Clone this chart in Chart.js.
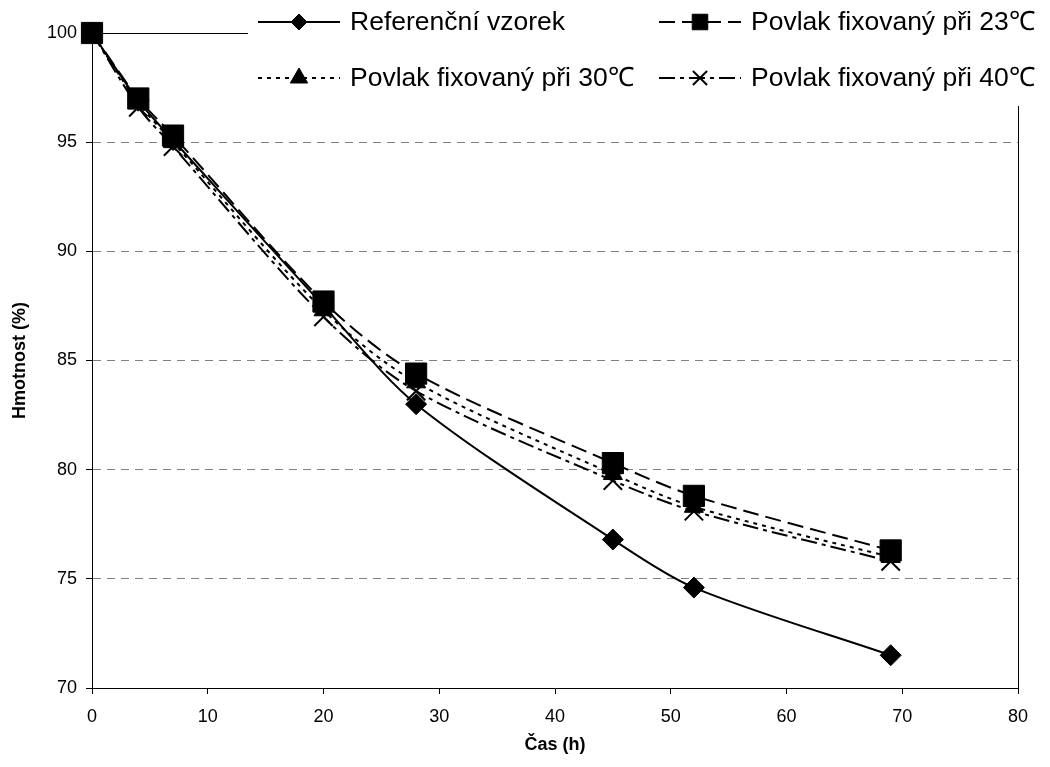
<!DOCTYPE html>
<html>
<head>
<meta charset="utf-8">
<script src="https://cdn.jsdelivr.net/npm/chart.js@4/dist/chart.umd.min.js"></script>
<style>
  html, body { margin: 0; padding: 0; background: #fff; }
  #wrap { width: 1050px; height: 767px; }
</style>
</head>
<body>
<div id="wrap"><canvas id="chart" width="1050" height="767"></canvas></div>
<script>
// data
const hours = [0, 4, 7, 20, 28, 45, 52, 69];
const reference = [100, 96.9, 95.1, 87.5, 83.0, 76.8, 74.6, 71.5];
const coat23 = [100, 97.0, 95.3, 87.7, 84.4, 80.3, 78.8, 76.3];
const coat30 = [100, 96.8, 95.0, 87.3, 84.0, 79.8, 78.3, 76.0];
const coat40 = [100, 96.6, 94.8, 87.0, 83.6, 79.5, 78.1, 75.8];
const seriesNames = [
    'Referenční vzorek',
    'Povlak fixovaný při 23℃',
    'Povlak fixovaný při 30℃',
    'Povlak fixovaný při 40℃'
];
const xTitle = 'Čas (h)';
const yTitle = 'Hmotnost (%)';

const FONT = "'Liberation Sans', Arial, sans-serif";

function toPoints(values) {
    return hours.map((h, i) => ({ x: h, y: values[i] }));
}

function makeSet(label, values, style, radius, legendRadius, dash) {
    return {
        label: label,
        data: toPoints(values),
        borderColor: '#000',
        backgroundColor: '#000',
        borderWidth: 2,
        borderDash: dash,
        pointStyle: style,
        pointRadius: radius,
        legendRadius: legendRadius,
        pointBackgroundColor: '#000',
        pointBorderColor: '#000',
        pointBorderWidth: style === 'crossRot' ? 2 : 1,
        tension: 0.3,
        clip: false,
        fill: false
    };
}

const datasets = [
    makeSet(seriesNames[0], reference, 'rectRot', 10.5, 8, []),
    makeSet(seriesNames[1], coat23, 'rect', 15, 11, [16, 7]),
    makeSet(seriesNames[2], coat30, 'triangle', 11, 10, [4, 5]),
    makeSet(seriesNames[3], coat40, 'crossRot', 13, 10, [16, 5, 4, 5])
];

// frame round the plot area
const frame = {
    id: 'frame',
    beforeDatasetsDraw(chart) {
        const a = chart.chartArea;
        const ctx = chart.ctx;
        ctx.save();
        ctx.strokeStyle = '#000';
        ctx.lineWidth = 1;
        ctx.beginPath();
        ctx.moveTo(a.left, a.top + 0.5);
        ctx.lineTo(a.right + 0.5, a.top + 0.5);
        ctx.lineTo(a.right + 0.5, a.bottom);
        ctx.stroke();
        ctx.restore();
    }
};

// legend in two columns, white box over the top of the plot
const boxLegend = {
    id: 'boxLegend',
    afterDraw(chart) {
        const ctx = chart.ctx;
        ctx.save();
        ctx.fillStyle = '#fff';
        ctx.fillRect(248, 0, 802, 106);
        const slots = [
            { x: 258, y: 22 }, { x: 659, y: 22 },
            { x: 258, y: 78 }, { x: 659, y: 78 }
        ];
        chart.data.datasets.forEach((ds, i) => {
            const s = slots[i];
            ctx.save();
            ctx.strokeStyle = '#000';
            ctx.lineWidth = 2;
            ctx.setLineDash(ds.borderDash || []);
            ctx.beginPath();
            ctx.moveTo(s.x, s.y);
            ctx.lineTo(s.x + 82, s.y);
            ctx.stroke();
            ctx.restore();
            ctx.save();
            ctx.fillStyle = '#000';
            ctx.strokeStyle = '#000';
            ctx.lineWidth = ds.pointBorderWidth;
            Chart.helpers.drawPoint(ctx, {
                pointStyle: ds.pointStyle,
                radius: ds.legendRadius,
                borderWidth: ds.pointBorderWidth,
                rotation: 0
            }, s.x + 41, s.y);
            ctx.restore();
            ctx.fillStyle = '#000';
            ctx.font = '26.5px ' + FONT;
            ctx.textBaseline = 'middle';
            ctx.textAlign = 'left';
            ctx.fillText(ds.label, s.x + 92, s.y + 1);
        });
        ctx.restore();
    }
};

const ctx = document.getElementById('chart').getContext('2d');

new Chart(ctx, {
    type: 'line',
    data: { datasets: datasets },
    options: {
        responsive: false,
        animation: false,
        layout: { padding: { left: 0, top: 33, right: 32, bottom: 0 } },
        plugins: {
            legend: { display: false },
            tooltip: { enabled: false }
        },
        scales: {
            x: {
                type: 'linear',
                min: 0,
                max: 80,
                ticks: {
                    stepSize: 10,
                    color: '#000',
                    font: { family: FONT, size: 18 },
                    padding: 12,
                    maxRotation: 0
                },
                grid: {
                    drawOnChartArea: false,
                    drawTicks: true,
                    tickLength: 6,
                    tickColor: '#000'
                },
                border: { color: '#000', width: 1 },
                title: {
                    display: true,
                    text: xTitle,
                    color: '#000',
                    font: { family: FONT, size: 18, weight: 'bold' },
                    padding: { top: 0, bottom: 11 }
                },
                afterFit(scale) { scale.height = 79; }
            },
            y: {
                min: 70,
                max: 100,
                ticks: {
                    stepSize: 5,
                    color: '#000',
                    font: { family: FONT, size: 18 },
                    padding: 9
                },
                grid: {
                    drawTicks: true,
                    tickLength: 6,
                    tickColor: '#000',
                    color: (c) => (c.tick && (c.tick.value === 70 || c.tick.value === 100)) ? 'rgba(0,0,0,0)' : '#808080'
                },
                border: { color: '#000', width: 1, dash: [8, 6] },
                title: {
                    display: true,
                    text: yTitle,
                    color: '#000',
                    font: { family: FONT, size: 18, weight: 'bold' },
                    padding: { top: 9, bottom: 0 }
                },
                afterFit(scale) { scale.width = 92; }
            }
        }
    },
    plugins: [frame, boxLegend]
});
</script>
</body>
</html>
